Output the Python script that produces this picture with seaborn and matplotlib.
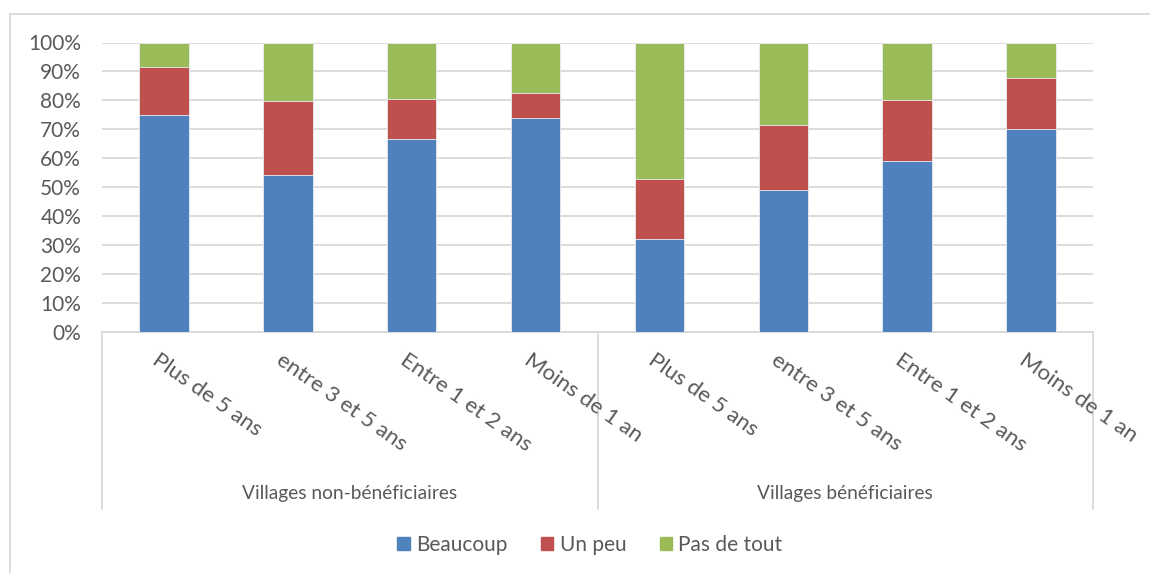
import matplotlib
matplotlib.use("Agg")
import matplotlib.pyplot as plt
import matplotlib.patches as mpatches
import matplotlib.transforms as mtransforms
from matplotlib.lines import Line2D
import pandas as pd
import seaborn as sns

# --- DATA ---
durations = ["Plus de 5 ans", "entre 3 et 5 ans", "Entre 1 et 2 ans", "Moins de 1 an"]
groups = ["Villages non-bénéficiaires", "Villages bénéficiaires"]
beaucoup = [74.9, 54.3, 66.6, 73.9, 32.1, 49.1, 59.2, 70.2]
un_peu = [16.8, 25.6, 14.0, 8.8, 20.7, 22.5, 21.0, 17.7]
pas_de_tout = [8.3, 20.1, 19.4, 17.3, 47.2, 28.4, 19.8, 12.1]
series_names = ["Beaucoup", "Un peu", "Pas de tout"]
colors = ["#4F81BD", "#C0504D", "#9BBB59"]

# --- DATAFRAME ---
df = pd.DataFrame({
    "pos": list(range(8)),
    "beaucoup": beaucoup,
    "un_peu": un_peu,
    "pas_de_tout": pas_de_tout,
})
df["cum_red"] = df["beaucoup"] + df["un_peu"]
df["cum_green"] = df["cum_red"] + df["pas_de_tout"]

sns.set_style("white")
plt.rcParams["font.family"] = ["Lato", "DejaVu Sans"]
text_color = "#595959"
grid_color = "#D9D9D9"

fig = plt.figure(figsize=(11.5, 5.73), dpi=100)
W, H = 1150, 573
ax = fig.add_axes([102 / W, 1 - 332 / H, (1093 - 102) / W, (332 - 42.5) / H])

# stacked bars: draw cumulative totals back to front
for col, c in zip(["cum_green", "cum_red", "beaucoup"], colors[::-1]):
    sns.barplot(data=df, x="pos", y=col, color=c, width=0.4, ax=ax, saturation=1,
                edgecolor="#E8EEF6", linewidth=0.6, native_scale=True, zorder=3)

ax.set_xlim(-0.5, 7.5)
ax.set_ylim(0, 100)
ax.set_yticks(range(0, 101, 10))
ax.set_yticklabels([f"{v}%" for v in range(0, 101, 10)], fontsize=15, color=text_color)
ax.tick_params(axis="y", length=0, pad=15)
ax.set_xticks([])
ax.set_xlabel("")
ax.set_ylabel("")
ax.yaxis.grid(True, color=grid_color, linewidth=1.3, zorder=0)
ax.set_axisbelow(True)
for s in ["top", "right", "left"]:
    ax.spines[s].set_visible(False)
ax.spines["bottom"].set_color(grid_color)
ax.spines["bottom"].set_linewidth(1.3)

# category axis: rotated duration labels, group labels and separators
trans = mtransforms.blended_transform_factory(ax.transData, fig.transFigure)
labels = durations * 2
for i, lab in enumerate(labels):
    ax.text(i - 0.03, 1 - 350 / H, lab, transform=trans, rotation=-35,
            rotation_mode="anchor", ha="left", va="top",
            fontsize=16, color=text_color)
for g, name in enumerate(groups):
    ax.text(g * 4 + 1.5, 1 - 493 / H, name, transform=trans, ha="center",
            va="center", fontsize=13.8, color=text_color)
for xs in [-0.5, 3.5, 7.5]:
    ax.add_line(Line2D([xs, xs], [1 - 332 / H, 1 - 509 / H], transform=trans,
                       color=grid_color, linewidth=1.3, clip_on=False))

# outer chart border (left and top visible)
fig.add_artist(Line2D([10 / W, 10 / W], [0, 1 - 14 / H], transform=fig.transFigure,
                      color=grid_color, linewidth=1.3))
fig.add_artist(Line2D([10 / W, 1], [1 - 14 / H, 1 - 14 / H], transform=fig.transFigure,
                      color=grid_color, linewidth=1.3))

# legend
handles = [mpatches.Patch(color=c, label=n) for c, n in zip(colors, series_names)]
leg = fig.legend(handles=handles, loc="center", bbox_to_anchor=(590 / W, 1 - 545 / H),
                 ncol=3, frameon=False, fontsize=15, handlelength=0.6,
                 handleheight=0.6, handletextpad=0.3, columnspacing=1.6)
for t in leg.get_texts():
    t.set_color(text_color)

plt.savefig("out.png", dpi=100)
